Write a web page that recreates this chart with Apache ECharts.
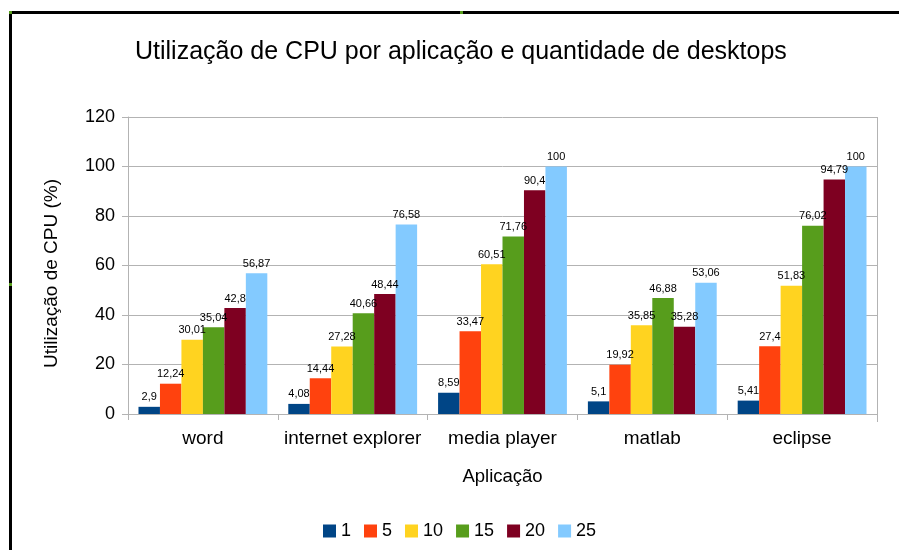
<!DOCTYPE html>
<html><head><meta charset="utf-8">
<script src="https://cdn.jsdelivr.net/npm/echarts@6/dist/echarts.min.js"></script>
<style>html,body{margin:0;padding:0;background:#fff}#c{width:899px;height:550px}</style>
</head><body><div id="c"></div>
<script>
var categories = ['word', 'internet explorer', 'media player', 'matlab', 'eclipse'];
var seriesNames = ['1', '5', '10', '15', '20', '25'];
var s1 = [2.9, 4.08, 8.59, 5.1, 5.41];
var s5 = [12.24, 14.44, 33.47, 19.92, 27.4];
var s10 = [30.01, 27.28, 60.51, 35.85, 51.83];
var s15 = [35.04, 40.66, 71.76, 46.88, 76.02];
var s20 = [42.8, 48.44, 90.4, 35.28, 94.79];
var s25 = [56.87, 76.58, 100, 53.06, 100];
var colors = ['#004586', '#ff420e', '#ffd320', '#579d1c', '#7e0021', '#83caff'];
var allData = [s1, s5, s10, s15, s20, s25];

var chart = echarts.init(document.getElementById('c'));
var series = allData.map(function (d, i) {
  return {
    name: seriesNames[i], type: 'bar', data: d,
    barGap: '0%', barCategoryGap: '14%',
    itemStyle: { color: colors[i] },
    label: {
      show: true, position: 'top', distance: 4, color: '#000',
      fontFamily: 'Liberation Sans', fontSize: 11,
      formatter: function (p) { return String(p.value).replace('.', ','); }
    }
  };
});
chart.setOption({
  animation: false,
  color: colors,
  title: {
    text: 'Utilização de CPU por aplicação e quantidade de desktops',
    left: 130, top: 35,
    textStyle: { fontFamily: 'Liberation Sans', fontSize: 25, fontWeight: 'normal', color: '#000' }
  },
  legend: {
    bottom: 10, left: 323, padding: 0, itemWidth: 13, itemHeight: 13, itemGap: 13,
    icon: 'rect',
    textStyle: { fontFamily: 'Liberation Sans', fontSize: 18, color: '#000' },
    data: seriesNames
  },
  grid: { left: 128, right: 22, top: 117, bottom: 136 },
  xAxis: {
    type: 'category', data: categories,
    name: 'Aplicação', nameLocation: 'middle', nameGap: 53,
    nameTextStyle: { fontFamily: 'Liberation Sans', fontSize: 18.5, color: '#000' },
    axisLine: { lineStyle: { color: '#b3b3b3' } },
    axisTick: { show: true, length: 6, lineStyle: { color: '#b3b3b3' } },
    axisLabel: { interval: 0, fontFamily: 'Liberation Sans', fontSize: 19, color: '#000', margin: 15 }
  },
  yAxis: {
    type: 'value', min: 0, max: 120, interval: 20,
    name: 'Utilização de CPU (%)', nameLocation: 'middle', nameGap: 67,
    nameTextStyle: { fontFamily: 'Liberation Sans', fontSize: 19, color: '#000', padding: [0, 16, 0, 0] },
    axisLine: { show: true, lineStyle: { color: '#b3b3b3' } },
    axisTick: { show: true, length: 6, lineStyle: { color: '#b3b3b3' } },
    splitLine: { lineStyle: { color: '#b3b3b3' } },
    axisLabel: { fontFamily: 'Liberation Sans', fontSize: 18, color: '#000', margin: 13 }
  },
  graphic: [
    { type: 'rect', shape: { x: 10, y: 11, width: 889, height: 3 }, style: { fill: '#000' } },
    { type: 'rect', shape: { x: 9, y: 11, width: 3, height: 539 }, style: { fill: '#000' } },
    { type: 'rect', shape: { x: 9, y: 11, width: 3, height: 3 }, style: { fill: '#579d1c' } },
    { type: 'rect', shape: { x: 460, y: 11, width: 3, height: 3 }, style: { fill: '#579d1c' } },
    { type: 'rect', shape: { x: 9, y: 283, width: 3, height: 3 }, style: { fill: '#579d1c' } },
    { type: 'line', shape: { x1: 877.5, y1: 117, x2: 877.5, y2: 422 }, style: { stroke: '#b3b3b3', lineWidth: 1 } }
  ],
  series: series
});
</script></body></html>
